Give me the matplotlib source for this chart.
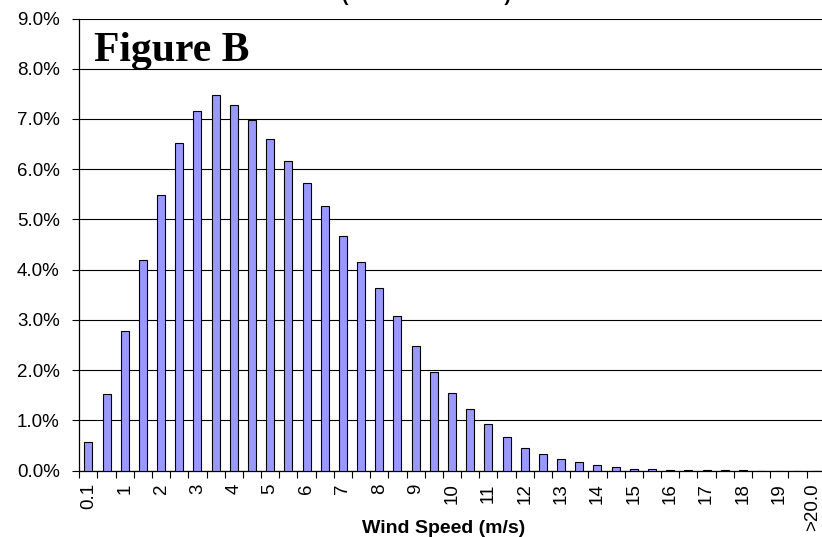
import matplotlib
matplotlib.use('Agg')
import matplotlib.pyplot as plt
import matplotlib.transforms as mtransforms
from matplotlib.ticker import FuncFormatter, FixedLocator

# ---- data ----
categories = ['0.1', '0.5', '1', '1.5', '2', '2.5', '3', '3.5', '4', '4.5',
              '5', '5.5', '6', '6.5', '7', '7.5', '8', '8.5', '9', '9.5',
              '10', '10.5', '11', '11.5', '12', '12.5', '13', '13.5', '14', '14.5',
              '15', '15.5', '16', '16.5', '17', '17.5', '18', '18.5', '19', '19.5',
              '>20.0']
frequency_pct = [0.58, 1.52, 2.78, 4.19, 5.49, 6.53, 7.16, 7.47, 7.28, 6.98,
                 6.61, 6.16, 5.72, 5.27, 4.68, 4.15, 3.63, 3.07, 2.49, 1.97,
                 1.54, 1.22, 0.93, 0.68, 0.46, 0.34, 0.23, 0.17, 0.11, 0.07,
                 0.04, 0.027, 0.015, 0.01, 0.007, 0.005, 0.004, 0.0, 0.0, 0.0,
                 0.0]
y_ticks = [0.00, 0.01, 0.02, 0.03, 0.04, 0.05, 0.06, 0.07, 0.08, 0.09]

values = [v / 100.0 for v in frequency_pct]

W, H = 822, 537
fig = plt.figure(figsize=(W / 100, H / 100), dpi=100)
fig.patch.set_facecolor('white')

left_px, right_px, top_px, bottom_px = 79.3, 824.7, 18.5, 470.7
ax = fig.add_axes([left_px / W, 1 - bottom_px / H,
                   (right_px - left_px) / W, (bottom_px - top_px) / H])

x = list(range(len(categories)))
ax.bar(x, values, width=0.44, color='#9999FF', edgecolor='black',
       linewidth=0.8, zorder=3)

ax.set_xlim(-0.5, len(categories) - 0.5)
ax.set_ylim(0, 0.09)

# y axis
ax.set_yticks(y_ticks)
ax.yaxis.set_major_formatter(FuncFormatter(lambda v, p: f'{v * 100:.1f}%'))
ax.tick_params(axis='y', direction='out', length=5, width=0.8, pad=9,
               labelsize=13.5, colors='black')
ax.grid(axis='y', color='black', linewidth=0.8, zorder=1)
ax.set_axisbelow(True)

# x axis: labels at every other category, tick marks at category boundaries
ax.xaxis.set_major_locator(FixedLocator(x[::2]))
ax.set_xticklabels(categories[::2], rotation=90, fontsize=13.5)
ax.tick_params(axis='x', which='major', length=0, pad=9)
ax.xaxis.set_minor_locator(FixedLocator([i - 0.5 for i in range(len(categories) + 1)]))
ax.tick_params(axis='x', which='minor', direction='out', length=5, width=0.8)
for lbl in ax.get_xticklabels():
    lbl.set_fontfamily('Liberation Sans')
for lbl in ax.get_yticklabels():
    lbl.set_fontfamily('Liberation Sans')
# nudge the last (edge) label slightly left so it stays inside the image
last_lbl = ax.get_xticklabels()[-1]
last_lbl.set_transform(last_lbl.get_transform() +
                       mtransforms.ScaledTranslation(-3 / 100, 0, fig.dpi_scale_trans))

for s in ['top', 'right']:
    ax.spines[s].set_visible(False)
ax.spines['left'].set_linewidth(0.9)
ax.spines['bottom'].set_linewidth(0.9)

ax.set_xlabel('Wind Speed (m/s)', fontsize=14, fontweight='bold',
              fontfamily='Liberation Sans', labelpad=4)
ax.xaxis.set_label_coords((443.5 - left_px) / (right_px - left_px),
                          -(533 - bottom_px) / (bottom_px - top_px))
ax.xaxis.label.set_verticalalignment('baseline')

# Figure label
fig.text(94 / W, 1 - 61 / H, 'Figure B', fontsize=30, fontweight='bold',
         fontfamily='Liberation Serif', ha='left', va='baseline')

# Title cut off at top of image (only parentheses visible)
fig.text(426 / W, 1 - 1 / H, '(' + ' ' * 29 + ')', fontsize=14,
         fontweight='bold', fontfamily='Liberation Sans',
         ha='center', va='baseline')

fig.savefig('out.png', dpi=100)
